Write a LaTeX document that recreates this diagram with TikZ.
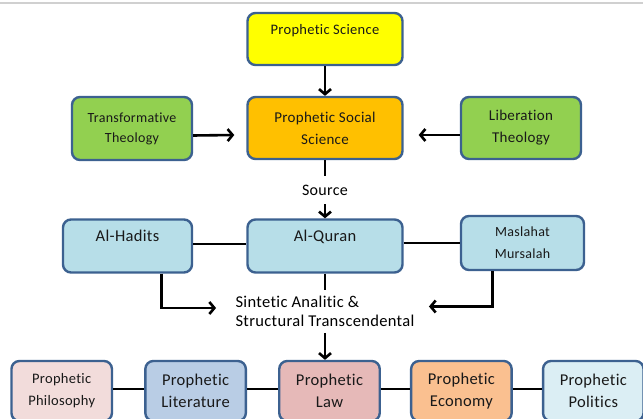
\documentclass[tikz,border=0pt]{standalone}
\usepackage{fontspec}
\setmainfont{Carlito}[Ligatures=NoCommon, LetterSpace=2]
\usepackage{tikz}
\usetikzlibrary{arrows.meta, positioning}
\definecolor{cardline}{HTML}{3C6190}
\definecolor{scienceyellow}{HTML}{FFFF00}
\definecolor{socialorange}{HTML}{FFC000}
\definecolor{theologygreen}{HTML}{92D050}
\definecolor{sourceblue}{HTML}{B7DEE8}
\definecolor{philopink}{HTML}{F2DCDB}
\definecolor{litblue}{HTML}{B9CDE5}
\definecolor{lawrose}{HTML}{E6B9B8}
\definecolor{econpeach}{HTML}{FAC090}
\definecolor{polsky}{HTML}{DBEEF4}
\definecolor{topgray}{HTML}{D0D0D0}
\newcommand{\fs}[2]{\fontsize{#1}{#2}\selectfont}
\tikzset{
  card/.style={draw=cardline, line width=2.4pt, rounded corners=8pt,
               align=center, inner sep=2pt, text=black!90},
  upperline/.style={text height=12pt, text depth=20pt},
  link/.style={line width=2.6pt},
  arr/.style={link, -{Straight Barb[length=5pt,width=12pt]}}
}

\begin{document}
\begin{tikzpicture}[x=1pt, y=-1pt]
    \path[use as bounding box, fill=white] (0,0) rectangle (643,419);
    \draw[topgray, line width=1.5pt] (0,3) -- (643,3);

    % top part
    \node[card, fill=scienceyellow, minimum width=155, minimum height=52,
          upperline, font=\fs{14.5}{22}] (sci) at (325,39) {Prophetic Science};
    \node[card, fill=socialorange, minimum width=155, minimum height=62,
          font=\fs{15}{22}] (pss) at (325,128) {Prophetic Social\\Science};
    \node[card, fill=theologygreen, minimum width=120, minimum height=63,
          font=\fs{14}{20}] (trans) at (132,128.5) {Transformative\\Theology};
    \node[card, fill=theologygreen, minimum width=120, minimum height=62,
          font=\fs{15}{22}] (lib) at (521,128) {Liberation\\Theology};
    \node[inner ysep=9pt, font=\fs{16}{20}] (source) at (325,190) {Source};

    % sources
    \node[card, fill=sourceblue, minimum width=155, minimum height=53,
          upperline, font=\fs{16.5}{22}] (quran) at (325,246) {Al-Quran};
    \node[card, fill=sourceblue, minimum width=129, minimum height=53,
          upperline, font=\fs{16.5}{22}] (hadits) at (127.5,246) {Al-Hadits};
    \node[card, fill=sourceblue, minimum width=123, minimum height=54,
          font=\fs{14}{22}] (maslahat) at (522.5,243) {Maslahat\\Mursalah};
    \node[align=left, inner ysep=6pt, font=\fs{16.5}{19}] (synth) at (325,311.5)
          {Sintetic Analitic \&\\Structural Transcendental};

    % prophetic fields
    \node[card, fill=lawrose, minimum width=100.5, minimum height=60,
          font=\fs{16.5}{22}] (law) at (329.5,391) {Prophetic\\Law};
    \node[card, fill=litblue, minimum width=100.5, minimum height=60,
          font=\fs{16.5}{22}, left=31pt of law] (lit) {Prophetic\\Literature};
    \node[card, fill=philopink, minimum width=100.5, minimum height=60,
          font=\fs{14.5}{22}, left=31pt of lit] (phil) {Prophetic\\Philosophy};
    \node[card, fill=econpeach, minimum width=100.5, minimum height=60,
          font=\fs{16.5}{22}, right=29pt of law] (econ) {Prophetic\\Economy};
    \node[card, fill=polsky, minimum width=100.5, minimum height=60,
          font=\fs{16.5}{22}, right=29pt of econ] (pol) {Prophetic\\Politics};

    % connectors
    \draw[arr] (sci) -- (pss);
    \draw[arr] ([yshift=-7pt]trans.east) -- ([xshift=-12pt,yshift=-7pt]pss.west);
    \draw[arr] ([yshift=-7pt]lib.west) -- ([xshift=15pt,yshift=-7pt]pss.east);
    \draw[link] (pss) -- (source);
    \draw[arr] (source) -- (quran);
    \draw[link] ([yshift=2pt]hadits.east) -- ([yshift=2pt]quran.west);
    \draw[link] (quran.east |- maslahat.west) -- (maslahat.west);
    \draw[link] (quran) -- (synth);
    \draw[arr] ([xshift=34pt]hadits.south) |- ([xshift=-16pt,yshift=3.5pt]synth.west);
    \draw[arr] ([xshift=-30pt]maslahat.south) |- ([xshift=11pt,yshift=5pt]synth.east);
    \draw[arr] (synth.south) -- (synth.south |- law.north);
    \draw[link] ([yshift=2pt]phil.east) -- ([yshift=2pt]lit.west);
    \draw[link] ([yshift=2pt]lit.east) -- ([yshift=2pt]law.west);
    \draw[link] ([yshift=2pt]law.east) -- ([yshift=2pt]econ.west);
    \draw[link] ([yshift=2pt]econ.east) -- ([yshift=2pt]pol.west);
\end{tikzpicture}
\end{document}
